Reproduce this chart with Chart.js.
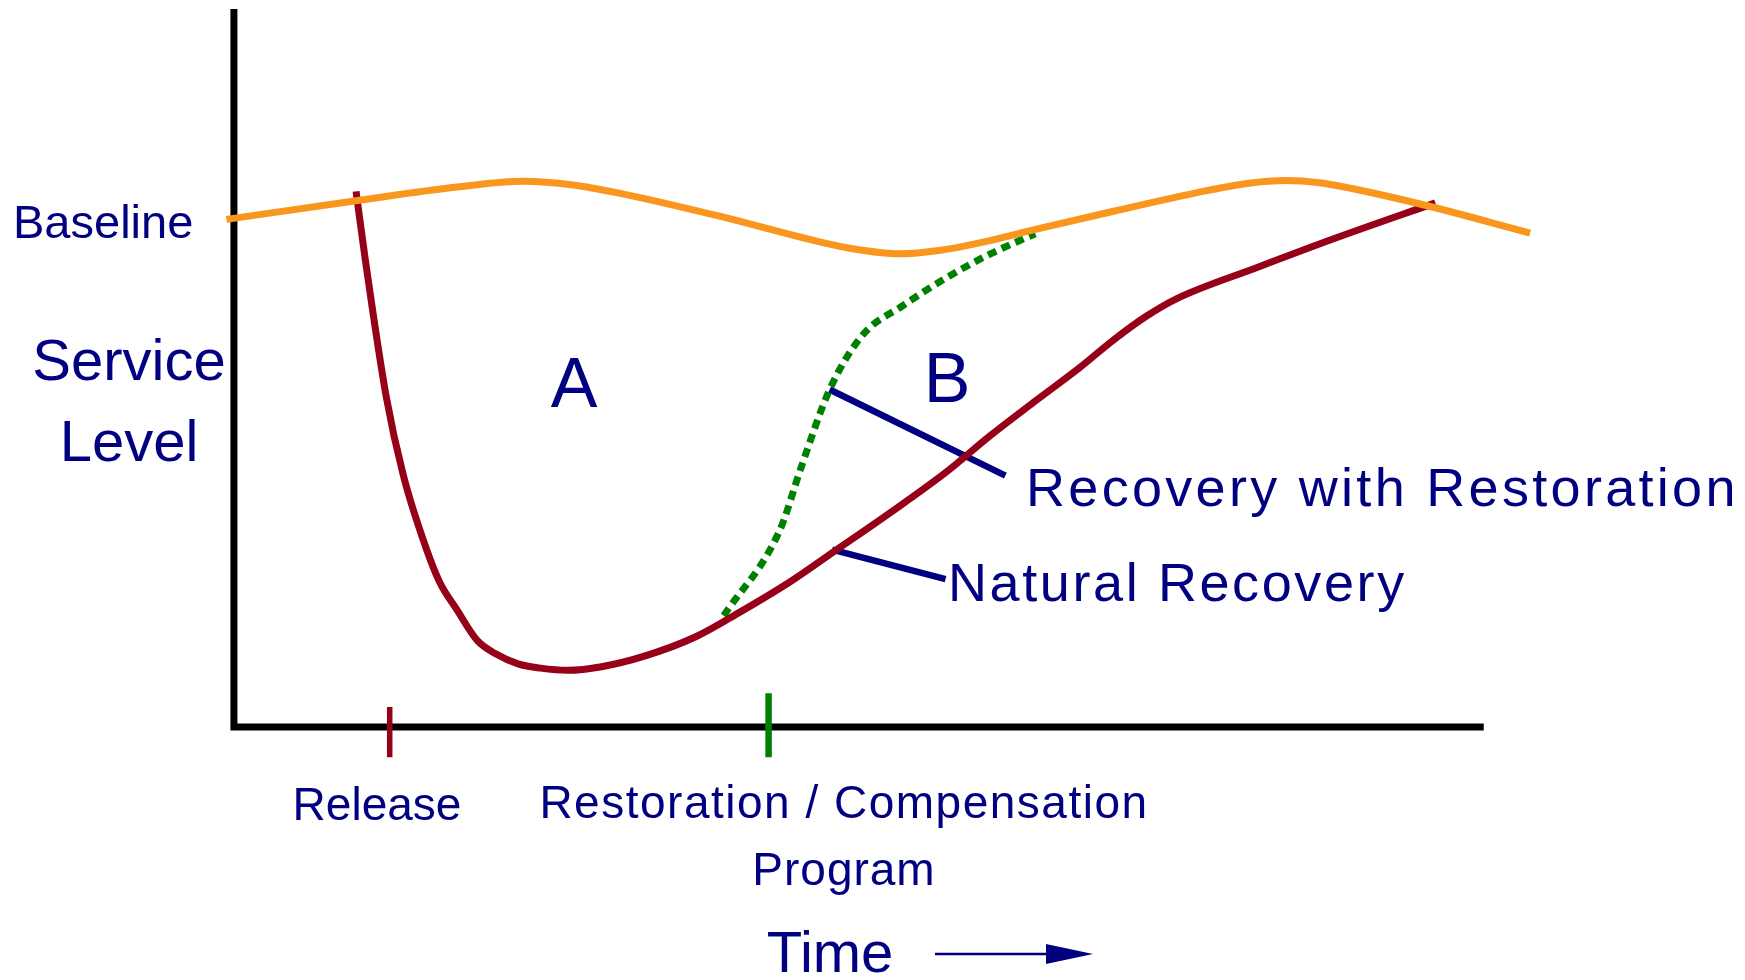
<!DOCTYPE html>
<html>
<head>
<meta charset="utf-8">
<script src="https://cdn.jsdelivr.net/npm/chart.js@4.4.1/dist/chart.umd.min.js"></script>
<style>
  html, body { margin: 0; padding: 0; background: #fff; }
  #wrap { width: 1745px; height: 980px; }
</style>
</head>
<body>
<div id="wrap"><canvas id="recoveryChart" width="1745" height="980"></canvas></div>
<script>
// time axis runs 0..100 (end of x axis), service level 0..100 (top of y axis)
const baselineTime  = [-0.6, 9.8, 17.9, 23.2, 27.2, 30.8, 39.3, 46.9, 50.0, 53.4, 56.7, 60.3, 64.3, 70.5, 77.2, 81.3, 84.4, 87.1, 89.7, 95.5, 104.0];
const baselineLevel = [70.7, 73.3, 75.2, 76.0, 75.5, 74.4, 71.0, 67.6, 66.5, 65.9, 66.4, 67.6, 69.3, 71.8, 74.4, 75.7, 76.1, 75.8, 75.0, 72.7, 68.8];

const naturalTime  = [9.8, 10.5, 12.2, 13.6, 15.4, 16.5, 17.9, 19.5, 21.0, 22.8, 24.6, 26.8, 29.5, 33.0, 37.1, 40.6, 44.6, 48.2, 52.7, 57.0, 60.7, 64.3, 67.9, 70.5, 73.2, 75.7, 82.1, 88.4, 96.4];
const naturalLevel = [74.6, 65.6, 46.2, 35.0, 25.0, 20.2, 16.3, 12.1, 10.2, 8.8, 8.2, 7.9, 8.4, 9.9, 12.6, 16.0, 20.2, 24.5, 29.9, 35.3, 40.6, 45.4, 50.1, 53.8, 57.2, 59.7, 64.0, 68.1, 73.0];

const restoredTime  = [39.3, 43.8, 45.5, 47.8, 50.5, 53.6, 57.1, 60.7, 64.3];
const restoredLevel = [15.5, 27.4, 36.1, 47.0, 54.7, 58.6, 62.5, 65.9, 68.7];

const releaseTime = 12.5;
const programTime = 42.9;

// pointer lines from labels to curves
const pointerRestored = [[47.8, 47.0], [61.9, 35.0]];
const pointerNatural  = [[48.0, 24.7], [57.1, 20.6]];

const navy = '#000080';

function pts(xs, ys) {
  return xs.map((x, i) => ({ x: x, y: ys[i] }));
}
function seg(p) {
  return p.map(q => ({ x: q[0], y: q[1] }));
}

const labelsPlugin = {
  id: 'labels',
  afterDraw(chart) {
    const ctx = chart.ctx;
    ctx.save();
    ctx.fillStyle = navy;
    ctx.textBaseline = 'middle';
    const txt = (s, x, y, size, align, spacing) => {
      ctx.font = size + 'px "Liberation Sans", Arial, sans-serif';
      ctx.textAlign = align;
      ctx.letterSpacing = (spacing || 0) + 'px';
      ctx.fillText(s, x, y);
    };
    txt('Baseline', 13, 225, 47, 'left');
    txt('Service', 129, 364, 58, 'center');
    txt('Level', 129, 445, 58, 'center');
    txt('A', 574, 388, 70, 'center');
    txt('B', 947, 383, 70, 'center');
    txt('Recovery with Restoration', 1026, 491, 54, 'left', 3.3);
    txt('Natural Recovery', 948, 586, 54, 'left', 2.6);
    txt('Release', 377, 807, 46, 'center');
    txt('Restoration / Compensation', 844, 805, 46, 'center', 1.5);
    txt('Program', 844, 872, 46, 'center', 1);
    txt('Time', 830, 956, 58, 'center');

    // arrow next to "Time"
    ctx.strokeStyle = navy;
    ctx.lineWidth = 2.5;
    ctx.beginPath();
    ctx.moveTo(935, 954);
    ctx.lineTo(1055, 954);
    ctx.stroke();
    ctx.beginPath();
    ctx.moveTo(1093, 954);
    ctx.lineTo(1046, 944);
    ctx.lineTo(1046, 964);
    ctx.closePath();
    ctx.fill();
    ctx.restore();
  }
};

const ctx = document.getElementById('recoveryChart').getContext('2d');
const chart = new Chart(ctx, {
  type: 'line',
  data: {
    datasets: [
      {
        label: 'Baseline',
        data: pts(baselineTime, baselineLevel),
        borderColor: '#F8961E',
        borderWidth: 7,
        cubicInterpolationMode: 'monotone'
      },
      {
        label: 'Natural Recovery',
        data: pts(naturalTime, naturalLevel),
        borderColor: '#960018',
        borderWidth: 7,
        cubicInterpolationMode: 'monotone'
      },
      {
        label: 'Recovery with Restoration',
        data: pts(restoredTime, restoredLevel),
        borderColor: '#008000',
        borderWidth: 7,
        borderDash: [9, 6],
        cubicInterpolationMode: 'monotone'
      },
      {
        label: 'pointer restored',
        data: seg(pointerRestored),
        borderColor: navy,
        borderWidth: 6.5
      },
      {
        label: 'pointer natural',
        data: seg(pointerNatural),
        borderColor: navy,
        borderWidth: 6.5
      },
      {
        label: 'release',
        data: [{ x: releaseTime, y: 2.8 }, { x: releaseTime, y: -4.2 }],
        borderColor: '#960018',
        borderWidth: 5.5
      },
      {
        label: 'program',
        data: [{ x: programTime, y: 4.7 }, { x: programTime, y: -4.2 }],
        borderColor: '#008000',
        borderWidth: 6.5
      },
      {
        label: 'axes',
        data: [{ x: 0, y: 99.5 }, { x: 0, y: 0 }, { x: 100, y: 0 }],
        borderColor: '#000',
        borderWidth: 7,
        borderCapStyle: 'square',
        borderJoinStyle: 'miter'
      }
    ]
  },
  options: {
    responsive: false,
    animation: false,
    events: [],
    layout: {
      padding: { left: 209, right: 190, top: 9, bottom: 253 }
    },
    datasets: {
      line: { pointRadius: 0, fill: false, clip: false }
    },
    plugins: {
      legend: { display: false },
      tooltip: { enabled: false }
    },
    scales: {
      x: { type: 'linear', min: -2, max: 106, display: false },
      y: { min: 0, max: 100, display: false }
    }
  },
  plugins: [labelsPlugin]
});
</script>
</body>
</html>
